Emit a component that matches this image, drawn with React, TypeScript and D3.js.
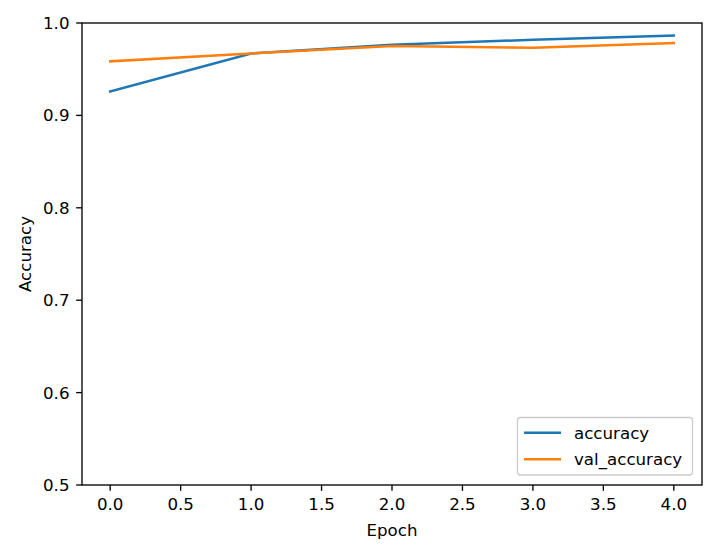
import React from "react";
import * as d3 from "d3";

const epochs = [0, 1, 2, 3, 4];
const accuracy = [0.926, 0.967, 0.9765, 0.9818, 0.9865];
const valAccuracy = [0.9585, 0.967, 0.975, 0.9733, 0.9784];
const xTicks = [0, 0.5, 1, 1.5, 2, 2.5, 3, 3.5, 4];
const yTicks = [0.5, 0.6, 0.7, 0.8, 0.9, 1.0];
const seriesNames = ["accuracy", "val_accuracy"];
const colors = ["#1f77b4", "#ff7f0e"];

const W = 723, H = 547;
const L = 82, R = 702, T = 23, B = 485;
const FONT = "DejaVu Sans, sans-serif";
const FS = 16.67;
const AXW = 1.33;
const TL = 5.83;

export default function App() {
  const x = d3.scaleLinear().domain([-0.2, 4.2]).range([L, R]);
  const y = d3.scaleLinear().domain([0.5, 1.0]).range([B, T]);
  const line = d3
    .line<number>()
    .x((_, i) => x(epochs[i]))
    .y((d) => y(d));
  const series = [accuracy, valAccuracy];
  return (
    <svg width={W} height={H} style={{ position: "absolute", left: 0, top: 0, background: "#fff" }}>
      <rect x={0} y={0} width={W} height={H} fill="#fff" />
      {series.map((s, i) => (
        <path key={i} d={line(s) || ""} fill="none" stroke={colors[i]} strokeWidth={2.5} strokeLinecap="square" />
      ))}
      <rect x={L} y={T} width={R - L} height={B - T} fill="none" stroke="#000" strokeWidth={AXW} />
      {xTicks.map((t) => (
        <g key={t}>
          <line x1={x(t)} x2={x(t)} y1={B} y2={B + TL} stroke="#000" strokeWidth={AXW} />
          <text x={x(t)} y={509.5} textAnchor="middle" fontFamily={FONT} fontSize={FS} fill="#000">
            {t.toFixed(1)}
          </text>
        </g>
      ))}
      {yTicks.map((t) => (
        <g key={t}>
          <line x1={L - TL} x2={L} y1={y(t)} y2={y(t)} stroke="#000" strokeWidth={AXW} />
          <text x={L - 12.5} y={y(t)} dy="0.36em" textAnchor="end" fontFamily={FONT} fontSize={FS} fill="#000">
            {t.toFixed(1)}
          </text>
        </g>
      ))}
      <text x={(L + R) / 2} y={535.5} textAnchor="middle" fontFamily={FONT} fontSize={FS} fill="#000">
        Epoch
      </text>
      <text
        transform={`translate(31,${(T + B) / 2}) rotate(-90)`}
        textAnchor="middle"
        fontFamily={FONT}
        fontSize={FS}
        fill="#000"
      >
        Accuracy
      </text>
      <g>
        <rect x={517.5} y={417.5} width={175} height={57.5} rx={3} fill="#fff" fillOpacity={0.8} stroke="#cccccc" strokeWidth={1.3} />
        {seriesNames.map((n, i) => (
          <g key={n}>
            <line x1={524} x2={561} y1={432.7 + i * 26.5} y2={432.7 + i * 26.5} stroke={colors[i]} strokeWidth={2.5} />
            <text x={574} y={432.7 + i * 26.5} dy="0.36em" fontFamily={FONT} fontSize={FS} fill="#000">
              {n}
            </text>
          </g>
        ))}
      </g>
    </svg>
  );
}
